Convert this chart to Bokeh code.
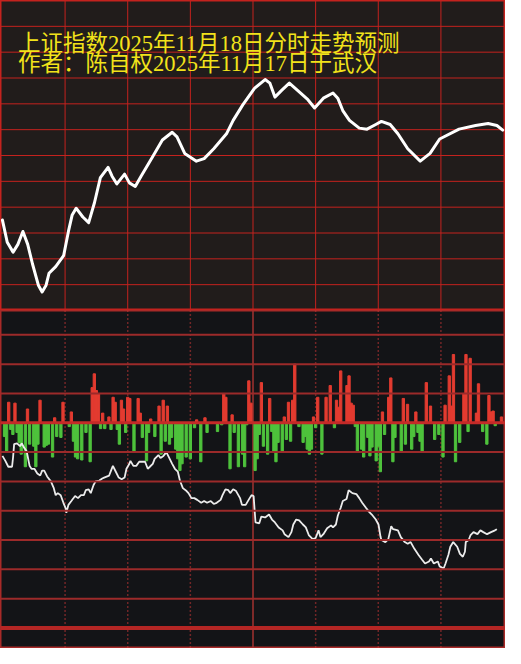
from bokeh.plotting import figure
from bokeh.models import Span, Range1d
from bokeh.layouts import column
from bokeh.core.properties import value
from bokeh.embed import file_html
from bokeh.resources import INLINE

TITLE = "上证指数2025年11月18日分时走势预测"
AUTHOR = "作者：陈自权2025年11月17日于武汉"

# predicted intraday curve (minute of session, index points)
pred_min = [0, 2.3, 5.1, 7.4, 9.8, 12.1, 14.4, 17.2, 19.0, 20.9,
            22.3, 25.5, 29.3, 31.6, 33.4, 35.3, 38.5, 41.3, 44.1, 46.9,
            50.6, 52.5, 54.8, 58.5, 60.8, 63.6, 66.4, 72.0, 76.6, 81.3,
            83.6, 87.3, 92.9, 96.6, 101.2, 107.3, 110.5, 115.1, 120.7, 125.8,
            128.1, 130.5, 133.7, 137.4, 141.6, 146.3, 149.5, 153.7, 158.3, 160.6,
            163.0, 166.2, 170.9, 174.6, 178.8, 181.5, 185.7, 189.4, 194.1, 200.1,
            204.8, 209.4, 218.7, 226.6, 232.6, 236.8, 239.6]
pred_px = [3967.5, 3963.2, 3961.3, 3962.8, 3965.3, 3962.8, 3959.0, 3954.9, 3953.6, 3954.9,
           3957.2, 3958.5, 3960.6, 3965.3, 3968.5, 3969.8, 3968.1, 3967.0, 3970.9, 3975.7,
           3977.7, 3976.0, 3974.5, 3976.4, 3974.7, 3974.0, 3976.0, 3979.8, 3983.0, 3984.5,
           3983.6, 3980.4, 3978.9, 3979.4, 3981.3, 3984.2, 3986.8, 3989.8, 3993.0, 3994.7,
           3994.0, 3991.3, 3992.6, 3994.0, 3992.5, 3990.8, 3989.2, 3991.1, 3992.1, 3991.1,
           3988.7, 3986.8, 3985.3, 3985.1, 3986.0, 3986.6, 3986.0, 3984.2, 3981.3, 3978.9,
           3980.4, 3983.2, 3985.1, 3985.8, 3986.2, 3985.8, 3984.9]

# money-flow bars (minute, amount)
red_min = [3, 6, 12, 18, 25, 29, 33, 43, 44, 45,
           46, 48, 51, 53, 54, 57, 58, 60, 61, 65,
           66, 71, 75, 77, 79, 93, 97, 106, 107, 110,
           118, 119, 124, 128, 135, 137, 139, 140, 149, 151,
           155, 157, 160, 161, 162, 165, 166, 167, 168, 182,
           185, 186, 192, 194, 198, 203, 205, 212, 214, 215,
           216, 221, 222, 224, 227, 228, 233, 234, 235, 239]
red_val = [7.0, 6.7, 4.7, 7.7, 1.7, 7.0, 3.7, 12.0, 16.7, 11.0,
           10.0, 3.3, 2.0, 8.7, 7.0, 7.7, 4.7, 8.7, 8.3, 8.3,
           3.3, 1.3, 5.7, 7.7, 5.7, 1.0, 1.7, 10.0, 8.7, 2.7,
           14.3, 6.7, 13.7, 8.3, 2.0, 7.0, 7.7, 20.0, 2.0, 8.7,
           8.7, 12.7, 7.7, 5.3, 17.7, 12.7, 16.0, 6.7, 6.0, 3.7,
           8.7, 15.3, 8.3, 6.3, 3.7, 13.7, 5.7, 6.0, 16.0, 5.7,
           23.3, 10.0, 23.3, 22.0, 3.3, 13.3, 9.3, 3.7, 4.0, 2.0]

green_min = [1, 2, 4, 5, 7, 8, 9, 11, 13, 15,
             16, 17, 20, 21, 22, 24, 26, 28, 32, 34,
             35, 36, 38, 40, 42, 47, 49, 52, 55, 56,
             59, 63, 67, 69, 70, 73, 76, 78, 80, 81,
             83, 84, 85, 86, 88, 90, 92, 95, 98, 103,
             105, 109, 111, 113, 115, 116, 117, 121, 122, 123,
             125, 127, 129, 130, 131, 132, 134, 136, 138, 142,
             144, 145, 146, 147, 148, 150, 153, 159, 169, 170,
             172, 173, 175, 176, 177, 179, 180, 181, 183, 187,
             188, 191, 193, 196, 197, 199, 200, 201, 207, 209,
             211, 217, 219, 223, 230, 232, 236]
green_val = [-4.7, -9.7, -2.3, -4.0, -3.3, -6.7, -10.7, -15.0, -7.3, -8.0,
             -15.0, -7.3, -8.3, -7.7, -7.3, -11.7, -4.7, -5.0, -1.3, -6.3,
             -11.7, -12.3, -12.7, -3.3, -13.3, -2.0, -2.0, -2.3, -2.3, -7.3,
             -3.3, -9.7, -5.0, -13.0, -3.3, -4.7, -10.7, -6.3, -7.3, -5.0,
             -9.0, -12.3, -16.3, -14.0, -11.7, -12.3, -1.7, -13.3, -3.3, -3.0,
             -0.7, -15.7, -3.3, -15.0, -10.7, -15.0, -0.7, -16.3, -12.3, -4.0,
             -8.0, -10.7, -3.0, -9.7, -13.3, -6.7, -10.0, -5.7, -6.3, -1.3,
             -6.7, -4.7, -9.0, -10.7, -9.0, -1.7, -10.7, -1.7, -1.3, -10.0,
             -9.0, -11.7, -5.0, -11.3, -8.3, -13.0, -8.0, -16.7, -4.0, -13.3,
             -5.0, -9.7, -7.3, -9.0, -4.7, -3.3, -6.3, -9.7, -5.7, -4.0,
             -11.7, -13.3, -6.7, -3.0, -3.0, -7.3, -1.0]

# lower-panel index line (minute, level)
line_min = [0.0, 1.4, 2.8, 4.6, 5.1, 5.6, 7.0, 8.4, 9.3, 10.2,
            11.6, 13.0, 13.9, 15.3, 16.7, 18.1, 19.0, 20.0, 21.4, 23.2,
            24.6, 25.5, 26.5, 27.9, 29.2, 30.2, 30.6, 31.6, 33.0, 34.8,
            36.2, 37.6, 39.0, 39.9, 41.3, 42.3, 43.6, 44.6, 46.4, 47.8,
            48.7, 51.1, 52.0, 52.9, 54.3, 55.7, 57.1, 58.5, 59.4, 60.8,
            61.3, 62.7, 64.1, 65.5, 66.9, 68.3, 69.6, 70.6, 72.0, 72.9,
            74.7, 75.7, 77.1, 78.5, 79.4, 81.3, 82.6, 84.0, 85.0, 86.4,
            88.2, 89.1, 90.5, 91.9, 93.3, 95.2, 96.6, 98.0, 99.8, 101.2,
            102.6, 104.5, 105.4, 106.8, 108.2, 109.1, 110.5, 111.9, 113.8, 114.7,
            116.5, 118.4, 119.3, 120.3, 120.7, 121.2, 123.0, 124.0, 125.8, 127.7,
            129.1, 130.5, 132.3, 134.2, 135.1, 137.0, 138.4, 139.3, 140.7, 142.1,
            143.9, 145.3, 146.7, 148.6, 150.0, 151.4, 152.3, 153.7, 155.5, 157.4,
            158.3, 159.7, 160.6, 162.0, 163.0, 164.8, 165.8, 167.6, 169.5, 170.9,
            172.3, 174.1, 175.5, 176.9, 178.8, 180.1, 181.1, 181.5, 183.4, 184.8,
            186.2, 187.1, 189.4, 190.8, 192.7, 194.1, 195.5, 197.3, 199.2, 201.0,
            202.4, 204.3, 205.2, 206.6, 208.5, 209.4, 211.3, 212.2, 213.6, 214.5,
            215.9, 217.8, 219.1, 220.5, 221.5, 221.9, 223.3, 224.2, 225.6, 227.5,
            228.9, 230.3, 232.1, 234.0, 235.9, 236.8]
line_val = [65.7, 64.0, 62.0, 62.0, 65.3, 69.7, 70.0, 69.0, 70.0, 68.7,
            67.3, 62.3, 61.3, 61.3, 59.7, 59.0, 60.7, 60.7, 58.7, 57.0,
            54.7, 52.3, 53.0, 52.3, 49.7, 48.0, 46.3, 49.0, 50.3, 52.0,
            51.3, 52.3, 52.3, 54.0, 54.3, 53.0, 55.7, 57.0, 57.3, 58.0,
            58.3, 59.0, 60.7, 62.3, 60.3, 58.3, 57.7, 58.3, 61.3, 63.0,
            64.0, 62.3, 62.3, 63.7, 63.7, 63.7, 61.3, 62.0, 63.0, 64.7,
            66.0, 65.0, 65.7, 67.0, 65.7, 63.0, 61.3, 60.3, 57.3, 54.7,
            53.7, 53.0, 51.3, 51.3, 50.7, 49.7, 50.3, 49.7, 50.3, 49.3,
            49.7, 50.7, 52.3, 54.3, 54.0, 53.0, 54.3, 53.7, 51.3, 49.0,
            49.0, 51.3, 52.3, 52.0, 48.0, 43.0, 42.7, 45.0, 44.7, 45.7,
            44.0, 43.0, 41.3, 40.3, 39.0, 38.0, 39.7, 42.3, 44.0, 43.7,
            42.3, 41.3, 38.7, 37.3, 37.7, 40.3, 38.0, 39.0, 41.0, 42.0,
            41.3, 42.3, 45.3, 48.0, 50.3, 51.0, 54.0, 53.0, 52.7, 51.3,
            49.7, 48.0, 46.7, 45.7, 44.0, 42.3, 38.0, 37.0, 36.3, 37.3,
            41.7, 40.7, 40.3, 38.0, 36.3, 35.7, 36.3, 34.0, 32.0, 30.3,
            29.0, 29.7, 30.7, 29.0, 29.7, 28.0, 27.3, 29.0, 32.0, 34.7,
            36.3, 34.7, 32.3, 31.3, 33.0, 36.3, 37.0, 38.7, 39.7, 39.0,
            40.3, 39.7, 39.0, 39.7, 40.3, 40.7]

time_ticks = [30, 60, 90, 120, 150, 180, 210]
price_ticks = [3955, 3960, 3965, 3970, 3975, 3980, 3985, 3990, 3995, 4000, 4005]
flow_ticks = [30, 20, 10, 0, -10, -20, -30, -40, -50, -60, -70]

W = 505
H_TOP = 310
H_BOT = 338
X_LO, X_HI = -0.93, 240.93

TOP_BG = "#211c1b"
BOT_BG = "#131417"
GRID_RED = "#c4221e"

top = figure(width=W, height=H_TOP, x_range=Range1d(X_LO, X_HI),
             y_range=Range1d(3950, 4010), output_backend="svg",
             toolbar_location=None, x_axis_location=None, y_axis_location=None,
             min_border=0, background_fill_color=TOP_BG, border_fill_color=TOP_BG,
             outline_line_color=GRID_RED, outline_line_width=2)
top.xgrid.visible = False
top.ygrid.visible = False

for t in time_ticks:
    top.add_layout(Span(location=t, dimension="height", line_color=GRID_RED,
                        line_width=1, level="underlay"))
for pv in price_ticks:
    top.add_layout(Span(location=pv, dimension="width", line_color=GRID_RED,
                        line_width=1, level="underlay"))

top.line(pred_min, pred_px, line_color="white", line_width=3,
         line_join="round", line_cap="round")

font = value("Liberation Serif, Noto Sans CJK SC")
top.text(x=[7.4], y=[4001.6], text=[TITLE], text_font=font, text_font_size="22.5px",
         text_color="#f2e31a", text_align="left", text_baseline="middle")
top.text(x=[7.4], y=[3997.9], text=[AUTHOR], text_font=font, text_font_size="22.5px",
         text_color="#f2e31a", text_align="left", text_baseline="middle")

bot = figure(width=W, height=H_BOT, x_range=Range1d(X_LO, X_HI),
             y_range=Range1d(-77, 38.3), output_backend="svg",
             toolbar_location=None, x_axis_location=None, y_axis_location=None,
             min_border=0, background_fill_color=BOT_BG, border_fill_color=BOT_BG,
             outline_line_color="#a82a28", outline_line_width=2)
bot.xgrid.visible = False
bot.ygrid.visible = False
bot.extra_y_ranges = {"idx": Range1d(0, 115.3)}

for t in time_ticks:
    if t == 120:
        bot.add_layout(Span(location=t, dimension="height", line_color="#a33230",
                            line_width=1.5, level="underlay"))
    else:
        bot.add_layout(Span(location=t, dimension="height", line_color="#d23838",
                            line_width=1.5, line_dash="1 3", level="underlay"))

bot.vbar(x=red_min, top=red_val, bottom=0, width=1.1, color="#e33b30")
bot.vbar(x=green_min, top=0, bottom=green_val, width=1.1, color="#4ec23c")

for fv in flow_ticks:
    if fv == 0:
        bot.add_layout(Span(location=fv, dimension="width", line_color="#c42a28",
                            line_width=3))
    elif fv == -70:
        bot.add_layout(Span(location=fv, dimension="width", line_color="#b52624",
                            line_width=4))
    else:
        bot.add_layout(Span(location=fv, dimension="width", line_color="#9c2a2a",
                            line_width=2))

bot.line(line_min, line_val, y_range_name="idx", line_color="#ececec", line_width=1.8)

layout = column(top, bot, spacing=0)
open("out.html", "w").write(file_html(layout, INLINE))
